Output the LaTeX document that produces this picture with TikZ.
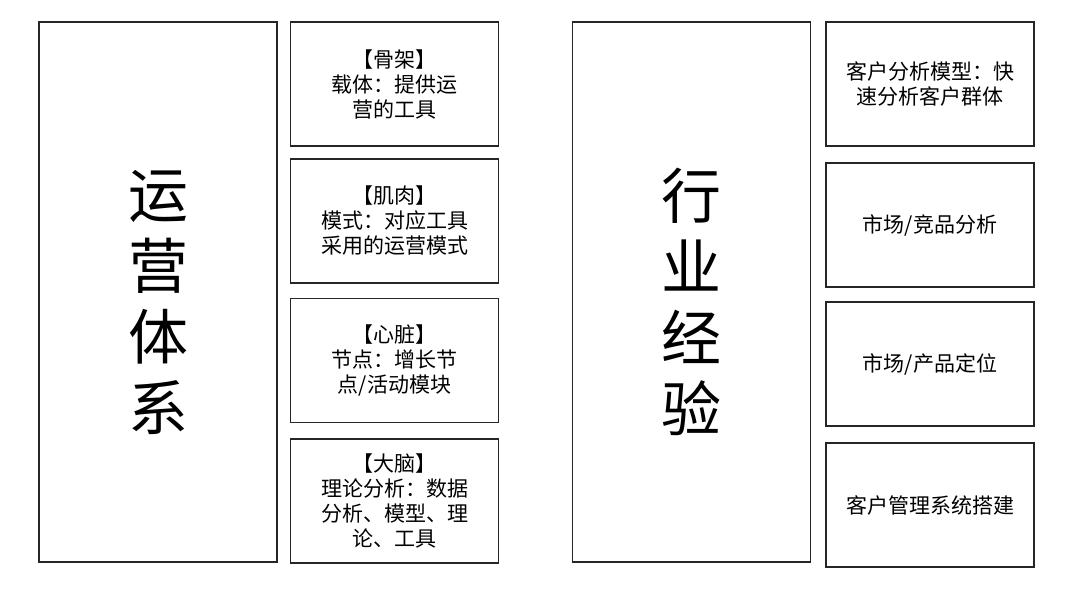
\documentclass[tikz,border=0pt]{standalone}
\usepackage{fontspec}
\newfontfamily\cjk{Noto Sans CJK SC}
\begin{document}
\begin{tikzpicture}[x=1pt,y=-1pt,
  frame/.style={draw=black!85, line width=1.6pt, inner sep=0pt, align=center},
  smallbox/.style={frame, minimum width=208pt, minimum height=124pt, font=\cjk\fontsize{21}{25}\selectfont},
  bigbox/.style={frame, minimum width=238pt, minimum height=540pt},
  bigtext/.style={inner sep=0pt, align=center, font=\cjk\fontsize{60}{71}\selectfont}]
\fill[white] (0,0) rectangle (1080,595);
\useasboundingbox (0,0) rectangle (1080,595);
% left group
\node[bigbox] (L) at (158,292) {};
\node[bigtext] (Lt) at (158,302) {运\\营\\体\\系};
\node[smallbox] (L1) at (394.5,84) {【骨架】\\载体：提供运\\营的工具};
\node[smallbox] (L2) at (394.5,221) {【肌肉】\\模式：对应工具\\采用的运营模式};
\node[smallbox] (L3) at (394.5,360.5) {【心脏】\\节点：增长节\\点/活动模块};
\node[smallbox] (L4) at (394.5,501) {【大脑】\\理论分析：数据\\分析、模型、理\\论、工具};
% right group
\node[bigbox] (R) at (691.5,292) {};
\node[bigtext] (Rt) at (691.5,302) {行\\业\\经\\验};
\node[smallbox] (R1) at (930,84) {客户分析模型：快\\速分析客户群体};
\node[smallbox] (R2) at (930,225) {市场/竞品分析};
\node[smallbox] (R3) at (930,364) {市场/产品定位};
\node[smallbox] (R4) at (930,505) {客户管理系统搭建};
\end{tikzpicture}
\end{document}
